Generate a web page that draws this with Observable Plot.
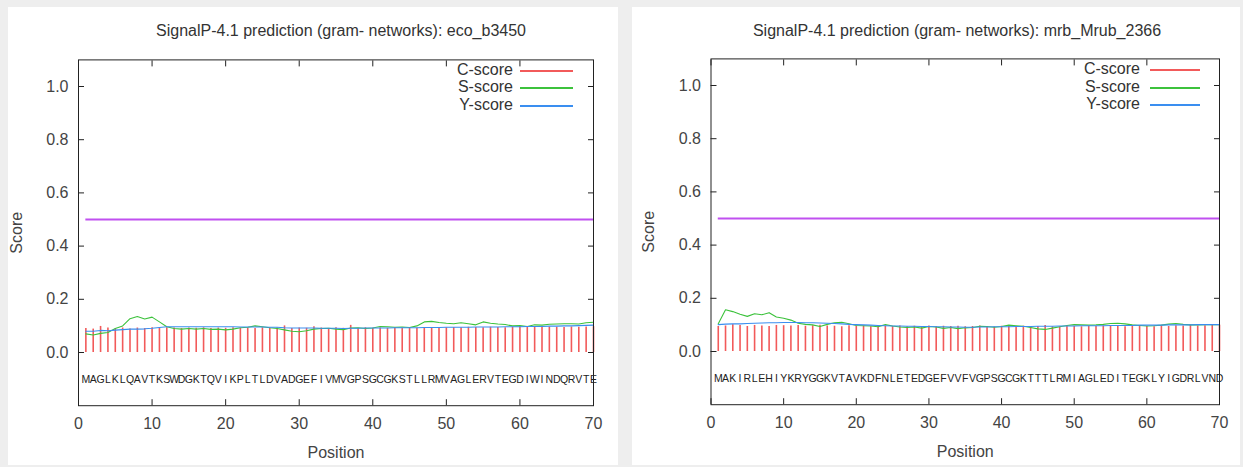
<!DOCTYPE html>
<html><head><meta charset="utf-8">
<script src="https://cdn.jsdelivr.net/npm/d3@7"></script>
<script src="https://cdn.jsdelivr.net/npm/@observablehq/plot@0.6"></script>
<style>
body{margin:0;background:#eeeeee;width:1243px;height:467px;overflow:hidden;font-family:"Liberation Sans",Arial,sans-serif;position:relative;}
.panel{position:absolute;background:#fff;}
.title{position:absolute;width:600px;text-align:center;font-size:16px;color:#333;line-height:18px;white-space:nowrap;}
.lg{position:absolute;font-size:16px;color:#333;line-height:18px;}
.lg .t{position:absolute;text-align:right;width:90px;}
.lg .l{position:absolute;height:2px;}
</style>
</head><body>
<script>
// ---------- data ----------
const positions = d3.range(1, 71);
const xTicks = [0, 10, 20, 30, 40, 50, 60, 70];
const yTicks = [0, 0.2, 0.4, 0.6, 0.8, 1.0];
const cutoff = 0.5;
const seriesNames = ["C-score", "S-score", "Y-score"];

const titleLeft = "SignalP-4.1 prediction (gram- networks): eco_b3450";
const seqLeft = "MAGLKLQAVTKSWDGKTQVIKPLTLDVADGEFIVMVGPSGCGKSTLLRMVAGLERVTEGDIWINDQRVTE".split("");
const cLeft = [0.090,0.088,0.098,0.092,0.088,0.092,0.088,0.092,0.090,0.093,
  0.091,0.093,0.092,0.090,0.092,0.091,0.093,0.090,0.092,0.091,
  0.093,0.091,0.092,0.090,0.093,0.091,0.092,0.100,0.090,0.092,
  0.091,0.097,0.092,0.090,0.093,0.091,0.102,0.090,0.093,0.091,
  0.092,0.091,0.093,0.090,0.092,0.091,0.093,0.092,0.094,0.093,
  0.094,0.093,0.095,0.094,0.093,0.095,0.094,0.093,0.095,0.098,
  0.094,0.095,0.094,0.096,0.095,0.094,0.096,0.095,0.096,0.097];
const sLeft = [0.070,0.066,0.072,0.075,0.090,0.100,0.127,0.135,0.126,0.133,
  0.115,0.097,0.090,0.088,0.090,0.088,0.090,0.087,0.088,0.085,
  0.088,0.093,0.095,0.100,0.097,0.093,0.090,0.085,0.080,0.078,
  0.082,0.088,0.090,0.091,0.088,0.086,0.092,0.093,0.090,0.092,
  0.098,0.097,0.095,0.096,0.094,0.100,0.115,0.117,0.113,0.110,
  0.108,0.112,0.108,0.104,0.115,0.110,0.107,0.105,0.100,0.101,
  0.098,0.104,0.103,0.106,0.107,0.108,0.108,0.107,0.112,0.114];
const yLeft = [0.080,0.080,0.083,0.082,0.084,0.086,0.088,0.088,0.089,0.091,
  0.094,0.097,0.097,0.097,0.097,0.097,0.097,0.097,0.097,0.097,
  0.097,0.096,0.096,0.096,0.096,0.095,0.095,0.093,0.092,0.092,
  0.092,0.092,0.091,0.091,0.091,0.090,0.091,0.091,0.092,0.092,
  0.092,0.092,0.093,0.093,0.093,0.093,0.094,0.094,0.094,0.095,
  0.095,0.095,0.095,0.096,0.096,0.096,0.096,0.097,0.097,0.097,
  0.098,0.098,0.098,0.099,0.099,0.100,0.100,0.101,0.102,0.103];

const titleRight = "SignalP-4.1 prediction (gram- networks): mrb_Mrub_2366";
const seqRight = "MAKIRLEHIYKRYGGKVTAVKDFNLETEDGEFVVFVGPSGCGKTTTLRMIAGLEDITEGKLYIGDRLVND".split("");
const cRight = [0.094,0.096,0.101,0.098,0.094,0.098,0.096,0.094,0.098,0.097,
  0.096,0.098,0.095,0.097,0.099,0.096,0.095,0.093,0.097,0.094,
  0.096,0.093,0.097,0.095,0.094,0.096,0.093,0.095,0.094,0.096,
  0.093,0.095,0.094,0.095,0.093,0.094,0.096,0.093,0.092,0.095,
  0.094,0.093,0.095,0.092,0.094,0.098,0.093,0.092,0.095,0.094,
  0.093,0.095,0.094,0.096,0.094,0.095,0.093,0.097,0.095,0.094,
  0.093,0.098,0.094,0.097,0.096,0.099,0.096,0.097,0.098,0.099];
const sRight = [0.104,0.157,0.150,0.140,0.132,0.142,0.138,0.146,0.130,0.125,
  0.118,0.106,0.102,0.100,0.094,0.102,0.108,0.110,0.104,0.098,
  0.097,0.096,0.093,0.101,0.096,0.092,0.090,0.092,0.088,0.094,
  0.092,0.087,0.090,0.086,0.089,0.090,0.095,0.094,0.091,0.094,
  0.099,0.097,0.095,0.090,0.085,0.083,0.088,0.093,0.098,0.101,
  0.100,0.099,0.100,0.102,0.105,0.106,0.104,0.100,0.098,0.096,
  0.097,0.099,0.103,0.105,0.102,0.100,0.100,0.101,0.101,0.101];
const yRight = [0.101,0.103,0.104,0.104,0.105,0.106,0.107,0.108,0.108,0.109,
  0.109,0.109,0.108,0.108,0.107,0.106,0.105,0.104,0.102,0.101,
  0.100,0.099,0.098,0.097,0.096,0.096,0.095,0.095,0.094,0.094,
  0.093,0.093,0.092,0.092,0.091,0.091,0.092,0.092,0.093,0.093,
  0.093,0.094,0.094,0.094,0.095,0.095,0.095,0.096,0.096,0.096,
  0.097,0.097,0.097,0.097,0.098,0.098,0.098,0.098,0.099,0.099,
  0.099,0.099,0.100,0.100,0.100,0.100,0.101,0.101,0.101,0.101];

// ---------- styles ----------
const colors = {c: "#f25a5a", s: "#3cc23c", y: "#3a8ef0", cut: "#c050f0"};

const panels = [
  {title: titleLeft, seq: seqLeft, c: cLeft, s: sLeft, y: yLeft,
   box: {left: 8, top: 7, width: 610, height: 458},
   titleCenter: 333,
   m: {left: 70, right: 25, top: 12.4, bottom: 56.8},
   legend: {textRight: 505, lineLeft: 512, lineWidth: 53, rows: [63, 80, 98]}},
  {title: titleRight, seq: seqRight, c: cRight, s: sRight, y: yRight,
   box: {left: 632, top: 7, width: 608, height: 458},
   titleCenter: 325,
   m: {left: 78.5, right: 21, top: 11.4, bottom: 57.8},
   legend: {textRight: 508, lineLeft: 518, lineWidth: 50, rows: [62, 80, 97]}}
];

const svgTop = 40, svgH = 415;

for (const p of panels) {
  const div = document.createElement("div");
  div.className = "panel";
  Object.assign(div.style, {left: p.box.left + "px", top: p.box.top + "px", width: p.box.width + "px", height: p.box.height + "px"});
  document.body.appendChild(div);

  const t = document.createElement("div");
  t.className = "title";
  t.style.top = "15px";
  t.style.left = (p.titleCenter - 300) + "px";
  t.textContent = p.title;
  div.appendChild(t);

  const rows = positions.map((pos, i) => ({pos, c: p.c[i], s: p.s[i], y: p.y[i], aa: p.seq[i]}));
  const [x0, x1] = d3.extent(positions);

  const chart = Plot.plot({
    width: p.box.width, height: svgH,
    marginLeft: p.m.left, marginRight: p.m.right, marginTop: p.m.top, marginBottom: p.m.bottom,
    style: {fontFamily: "Liberation Sans, Arial, sans-serif", fontSize: "16px", color: "#333", background: "transparent"},
    x: {domain: [0, 70]},
    y: {domain: [-0.2, 1.1]},
    marks: [
      Plot.ruleX(rows, {x: "pos", y1: 0, y2: "c", stroke: colors.c, strokeWidth: 1.6}),
      Plot.line(rows, {x: "pos", y: "s", stroke: colors.s, strokeWidth: 1.1}),
      Plot.line(rows, {x: "pos", y: "y", stroke: colors.y, strokeWidth: 1.1}),
      Plot.ruleY([cutoff], {x1: x0, x2: x1, stroke: colors.cut, strokeWidth: 1.8}),
      Plot.text(rows, {x: "pos", text: "aa", frameAnchor: "bottom", dy: -23, fontSize: 10.5, fill: "#222"}),
      Plot.frame({stroke: "#222"}),
      Plot.axisX({anchor: "bottom", ticks: xTicks, tickSize: -6, tickFormat: () => "", label: null, stroke: "#222"}),
      Plot.axisX({anchor: "top", ticks: xTicks, tickSize: -6, tickFormat: () => "", label: null, stroke: "#222"}),
      Plot.axisY({anchor: "left", ticks: yTicks, tickSize: -6, tickFormat: () => "", label: null, stroke: "#222"}),
      Plot.axisY({anchor: "right", ticks: yTicks, tickSize: -6, tickFormat: () => "", label: null, stroke: "#222"}),
      Plot.axisX({anchor: "bottom", ticks: xTicks, tickSize: 0, tickPadding: 12, label: "Position", labelAnchor: "center", labelOffset: 52, labelArrow: "none", fill: "#444"}),
      Plot.axisY({anchor: "left", ticks: yTicks, tickSize: 0, tickPadding: 10, tickFormat: d3.format(".1f"), label: "Score", labelAnchor: "center", labelOffset: 68, labelArrow: "none", fill: "#444"})
    ]
  });
  chart.style.position = "absolute";
  chart.style.left = "0px";
  chart.style.top = svgTop + "px";
  div.appendChild(chart);

  const lg = document.createElement("div");
  lg.className = "lg";
  Object.assign(lg.style, {left: "0px", top: "0px"});
  const cols = [colors.c, colors.s, colors.y];
  seriesNames.forEach((name, i) => {
    const tt = document.createElement("div");
    tt.className = "t"; tt.textContent = name;
    Object.assign(tt.style, {left: (p.legend.textRight - 90) + "px", top: (p.legend.rows[i] - 9) + "px"});
    lg.appendChild(tt);
    const ln = document.createElement("div");
    ln.className = "l";
    Object.assign(ln.style, {left: p.legend.lineLeft + "px", top: p.legend.rows[i] + "px", width: p.legend.lineWidth + "px", backgroundColor: cols[i]});
    lg.appendChild(ln);
  });
  div.appendChild(lg);
}
</script>
</body></html>
